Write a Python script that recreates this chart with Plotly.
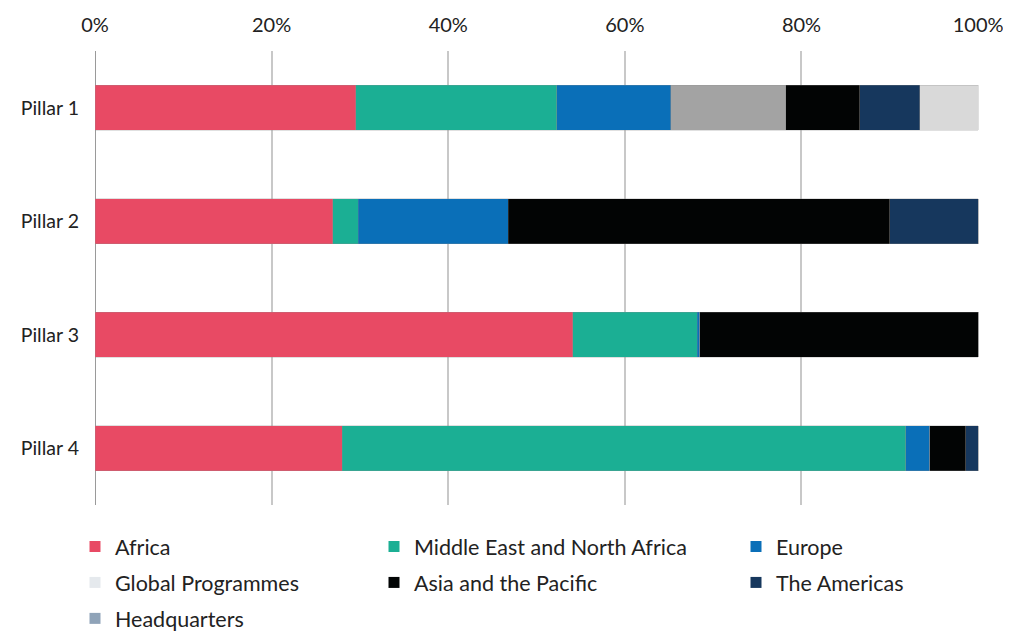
import plotly.graph_objects as go

pillars = ["Pillar 1", "Pillar 2", "Pillar 3", "Pillar 4"]

regions = ["Africa", "Middle East and North Africa", "Europe", "Global Programmes",
           "Asia and the Pacific", "The Americas", "Headquarters"]

# share (%) of each region per pillar
africa = [29.5, 26.9, 54.1, 28.0]
mena = [22.8, 2.9, 14.1, 63.8]
europe = [12.9, 17.0, 0.3, 2.7]
global_prog = [13.0, 0.0, 0.0, 0.0]
asia = [8.4, 43.2, 31.5, 4.1]
americas = [6.8, 10.0, 0.0, 1.4]
headquarters = [6.6, 0.0, 0.0, 0.0]

values = [africa, mena, europe, global_prog, asia, americas, headquarters]

bar_colors = ["#e84a64", "#1baf94", "#0a6fb8", "#a3a3a3", "#020404", "#16375d", "#d9d9d9"]
legend_colors = ["#e84a64", "#1baf94", "#0a6fb8", "#e5e9ed", "#020404", "#16375d", "#8fa3b8"]
legend_ids = ["legend", "legend2", "legend3", "legend", "legend2", "legend3", "legend"]

xticks = [0, 20, 40, 60, 80, 100]
xticklabels = ["0%", "20%", "40%", "60%", "80%", "100%"]

FONT = "Lato"
W, H = 1003, 624

fig = go.Figure()
for name, vals, col in zip(regions, values, bar_colors):
    fig.add_trace(go.Bar(
        y=pillars, x=vals, name=name, orientation="h",
        marker=dict(color=col, line=dict(color="rgba(140,140,140,0.45)", width=0.6)),
        width=0.4, showlegend=False, legendgroup=name,
    ))

for name, col, lg in zip(regions, legend_colors, legend_ids):
    fig.add_trace(go.Scatter(
        x=[None], y=[None], mode="markers", name=name,
        marker=dict(symbol="square", size=11, color=col),
        legend=lg, legendgroup=name, showlegend=True,
    ))

leg_common = dict(
    orientation="v", yanchor="top", y=1 - 518 / H, yref="container",
    xanchor="left", xref="container",
    font=dict(family=FONT, size=21.5, color="#222222"),
    tracegroupgap=5, bgcolor="rgba(0,0,0,0)", itemclick=False,
)

fig.update_layout(
    barmode="stack",
    width=W, height=H,
    margin=dict(l=87, r=32, t=43, b=127, autoexpand=False),
    plot_bgcolor="white", paper_bgcolor="white",
    font=dict(family=FONT, size=19, color="#222222"),
    legend=dict(leg_common, x=67 / W),
    legend2=dict(leg_common, x=366 / W),
    legend3=dict(leg_common, x=728 / W),
    xaxis=dict(
        side="top", range=[0, 100.1], tickvals=xticks, ticktext=xticklabels,
        showgrid=True, gridcolor="#c8c8c8", gridwidth=1.5,
        zeroline=True, zerolinecolor="#9a9a9a", zerolinewidth=1.2,
        showline=False, ticks="", ticklabelstandoff=14, automargin=False,
        ticklabeloverflow="allow",
        tickfont=dict(family=FONT, size=20, color="#222222"),
        fixedrange=True,
    ),
    yaxis=dict(
        categoryorder="array", categoryarray=pillars, autorange="reversed",
        showgrid=False, zeroline=False, showline=False, ticks="",
        ticklabelstandoff=15, automargin=False,
        tickfont=dict(family=FONT, size=19.5, color="#222222"),
        fixedrange=True,
    ),
)

fig.write_html("out.html")
